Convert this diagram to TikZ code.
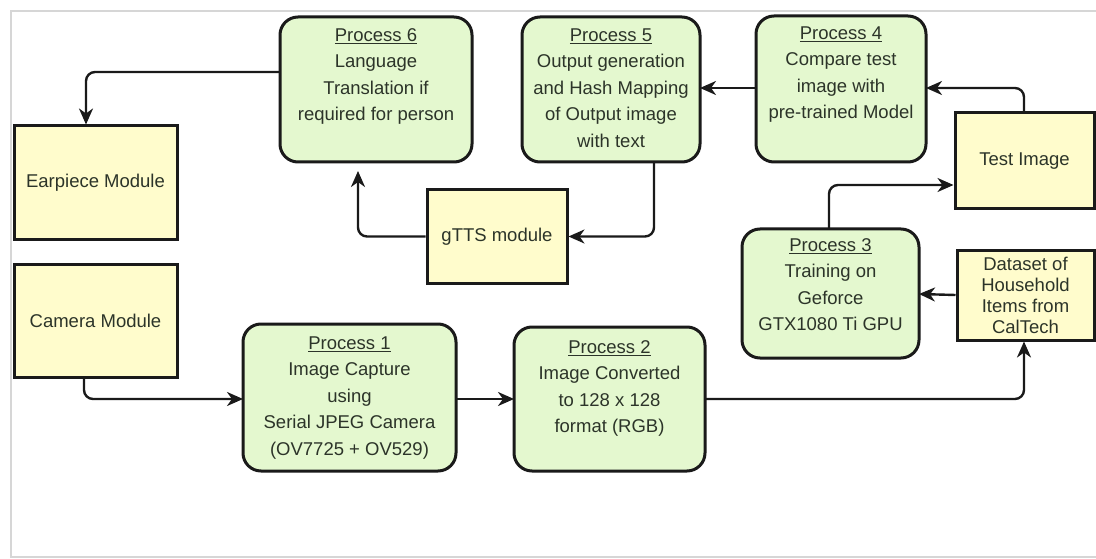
\documentclass[tikz,border=0pt]{standalone}
\usepackage{fontspec}
\setmainfont{Liberation Sans}
\usetikzlibrary{arrows.meta,calc}

\definecolor{procfill}{HTML}{E4F8CF}
\definecolor{modfill}{HTML}{FFFCCC}
\definecolor{edge}{HTML}{1A1A1A}
\definecolor{txt}{HTML}{2C3429}
\definecolor{framegray}{HTML}{D6D6D6}

\tikzset{
  boxtext/.style={font=\fontsize{18.5}{26.5}\selectfont, text=txt, align=center},
  procbox/.style={draw=edge, line width=3pt, fill=procfill, rounded corners=18pt},
  modbox/.style={draw=edge, line width=3pt, fill=modfill},
  flow/.style={draw=edge, line width=2.4pt, rounded corners=9pt,
    -{Stealth[length=16pt,width=14pt,inset=5pt]}},
}

\begin{document}
\begin{tikzpicture}[x=1pt,y=-1pt]
  \useasboundingbox (0,0) rectangle (1096,559);
  \fill[white] (0,0) rectangle (1096,559);
  \draw[framegray, line width=2.5pt] (1100,11) -- (11,11) -- (11,557) -- (1100,557);

  % process boxes, text set from the top edge
  \path[procbox] (280,17) rectangle (472,162);
  \node[boxtext, anchor=north] (P6) at (376,25) {\underline{Process 6}\\Language\\Translation if\\required for person};
  \path[procbox] (522,17) rectangle (700,162);
  \node[boxtext, anchor=north] (P5) at (611,25) {\underline{Process 5}\\Output generation\\and Hash Mapping\\of Output image\\with text};
  \path[procbox] (756,16) rectangle (926,162);
  \node[boxtext, anchor=north] (P4) at (841,23) {\underline{Process 4}\\Compare test\\image with\\pre-trained Model};
  \path[procbox] (742,229) rectangle (919,358);
  \node[boxtext, anchor=north] (P3) at (830.5,235) {\underline{Process 3}\\Training on\\Geforce\\GTX1080 Ti GPU};
  \path[procbox] (243,324) rectangle (456,471);
  \node[boxtext, anchor=north] (P1) at (349.5,333) {\underline{Process 1}\\Image Capture\\using\\Serial JPEG Camera\\(OV7725 + OV529)};
  \path[procbox] (514,327) rectangle (705,471);
  \node[boxtext, anchor=north] (P2) at (609.5,337) {\underline{Process 2}\\Image Converted\\to 128 x 128\\format (RGB)};

  % anchors on the box outlines
  \coordinate (P6w) at (280,72);   \coordinate (P6s) at (358,162);
  \coordinate (P5e) at (700,88);   \coordinate (P5s) at (654,162);
  \coordinate (P4w) at (756,88);   \coordinate (P4e) at (926,88);
  \coordinate (P3n) at (829,229);  \coordinate (P3e) at (919,294);
  \coordinate (P1w) at (243,399);  \coordinate (P1e) at (456,399);
  \coordinate (P2w) at (514,399);  \coordinate (P2e) at (705,399);

  % module boxes
  \node[modbox, boxtext, minimum width=163pt, minimum height=113pt] (ear) at (95.5,182.5) {Earpiece Module};
  \node[modbox, boxtext, minimum width=163pt, minimum height=113pt] (cam) at (95.5,320.5) {Camera Module};
  \node[modbox, boxtext, minimum width=140pt, minimum height=93pt] (gtts) at (497,236.5) {gTTS module};
  \node[modbox, boxtext, minimum width=139pt, minimum height=96pt] (test) at (1024.5,161) {Test Image};
  \node[modbox, boxtext, minimum width=137pt, minimum height=90pt,
        font=\fontsize{18.5}{21}\selectfont] (data) at (1025.5,295) {Dataset of\\Household\\Items from\\CalTech};

  % connectors
  \draw[flow] (P6w) -| (86,0 |- ear.north);
  \draw[flow, shorten >=9pt] (gtts.west) -| (P6s);
  \draw[flow] (P5s) |- (gtts.east);
  \draw[flow] (P4w) -- (P5e);
  \draw[flow] (test.north -| 1024,0) |- (P4e);
  \draw[flow] (P3n) |- (test.west |- 0,185);
  \draw[flow] (data.west) -- (P3e);
  \draw[flow] (P2e) -| (data.south -| 1024,0);
  \draw[flow] (84,0 |- cam.south) |- (P1w);
  \draw[flow] (P1e) -- (P2w);
\end{tikzpicture}
\end{document}
